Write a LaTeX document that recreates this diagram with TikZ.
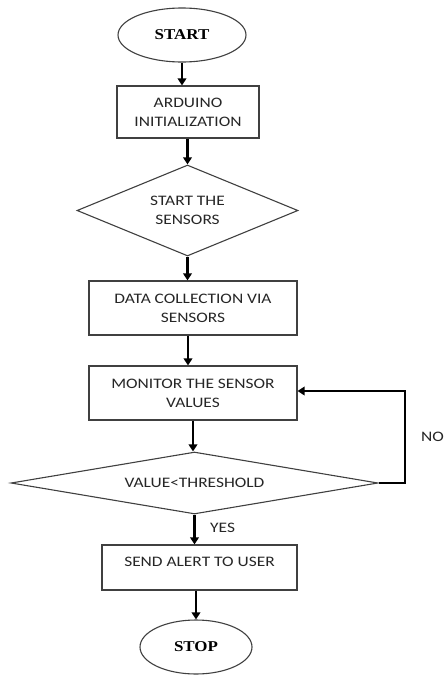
\documentclass[tikz,border=0pt]{standalone}
\usepackage{fontspec}
\usepackage{graphicx}
\setmainfont{Carlito}
\newfontfamily\termfont{Liberation Serif}
\newcommand\wtxt[1]{\scalebox{1.2}[1]{#1}}
\newcommand\wterm[1]{\scalebox{1.13}[1]{#1}}
\usetikzlibrary{shapes.geometric,arrows.meta,calc}
\begin{document}
\begin{tikzpicture}[x=1pt,y=-1pt,
  every node/.style={font=\fontsize{14.5}{19}\selectfont, text=black!85},
  outl/.style={draw=black!75, line width=1.1pt},
  term/.style={outl, ellipse, inner sep=0pt, font=\fontsize{15}{19}\termfont\bfseries, text=black},
  stepbox/.style={outl, rectangle, inner sep=0pt, align=center},
  decide/.style={outl, diamond, inner sep=0pt, align=center},
  arr/.style={draw=black, line width=2.2pt, -{Triangle[length=7pt,width=8.5pt]}},
  lbl/.style={inner sep=0pt, anchor=west}]
\useasboundingbox (0,0) rectangle (444,675);
\fill[white] (0,0) rectangle (444,675);

\node[term, minimum width=128pt, minimum height=54pt] (start) at (182,35) {\wterm{START}};
\node[stepbox, minimum width=142pt, minimum height=52pt] (ard) at (188,112) {\wtxt{ARDUINO}\\\wtxt{INITIALIZATION}};
\node[decide, aspect=2.43, minimum width=221pt, minimum height=91pt] (d1) at (187.5,210.5) {\wtxt{START THE}\\\wtxt{SENSORS}};
\node[stepbox, minimum width=208pt, minimum height=54pt] (data) at (193,308) {\wtxt{DATA COLLECTION VIA}\\\wtxt{SENSORS}};
\node[stepbox, minimum width=208pt, minimum height=54pt] (mon) at (193,393) {\wtxt{MONITOR THE SENSOR}\\\wtxt{VALUES}};
\node[decide, aspect=5.92, minimum width=367pt, minimum height=62pt] (d2) at (194.5,483) {\wtxt{VALUE<THRESHOLD}};
\node[stepbox, minimum width=195pt, minimum height=45pt] (send) at (199.5,567.5) {};
\node[inner sep=0pt] (sendtxt) at (199.5,562) {\wtxt{SEND ALERT TO USER}};
\node[term, minimum width=112pt, minimum height=54pt] (stop) at (196,647) {\wterm{STOP}};

\node[lbl] (yes) at (210,528) {\wtxt{YES}};
\node[lbl] (no) at (421,437) {\wtxt{NO}};

\coordinate (nob) at (405,483);
\coordinate (not) at (405,391);

\draw[arr] (start.south) -- (start.south |- ard.north);
\draw[arr] (d1.north |- ard.south) -- (d1.north);
\draw[arr] (d1.south) -- (d1.south |- data.north);
\draw[arr] ([xshift=-5pt]data.south) -- ([xshift=-5pt]data.south |- mon.north);
\draw[arr] (mon.south) -- (mon.south |- d2.north);
\draw[arr] (d2.south) -- (d2.south |- send.north);
\draw[arr] (stop.north |- send.south) -- (stop.north);
\draw[arr] (d2.east) -- (nob) -- (not) -- (not -| mon.east);
\end{tikzpicture}
\end{document}
